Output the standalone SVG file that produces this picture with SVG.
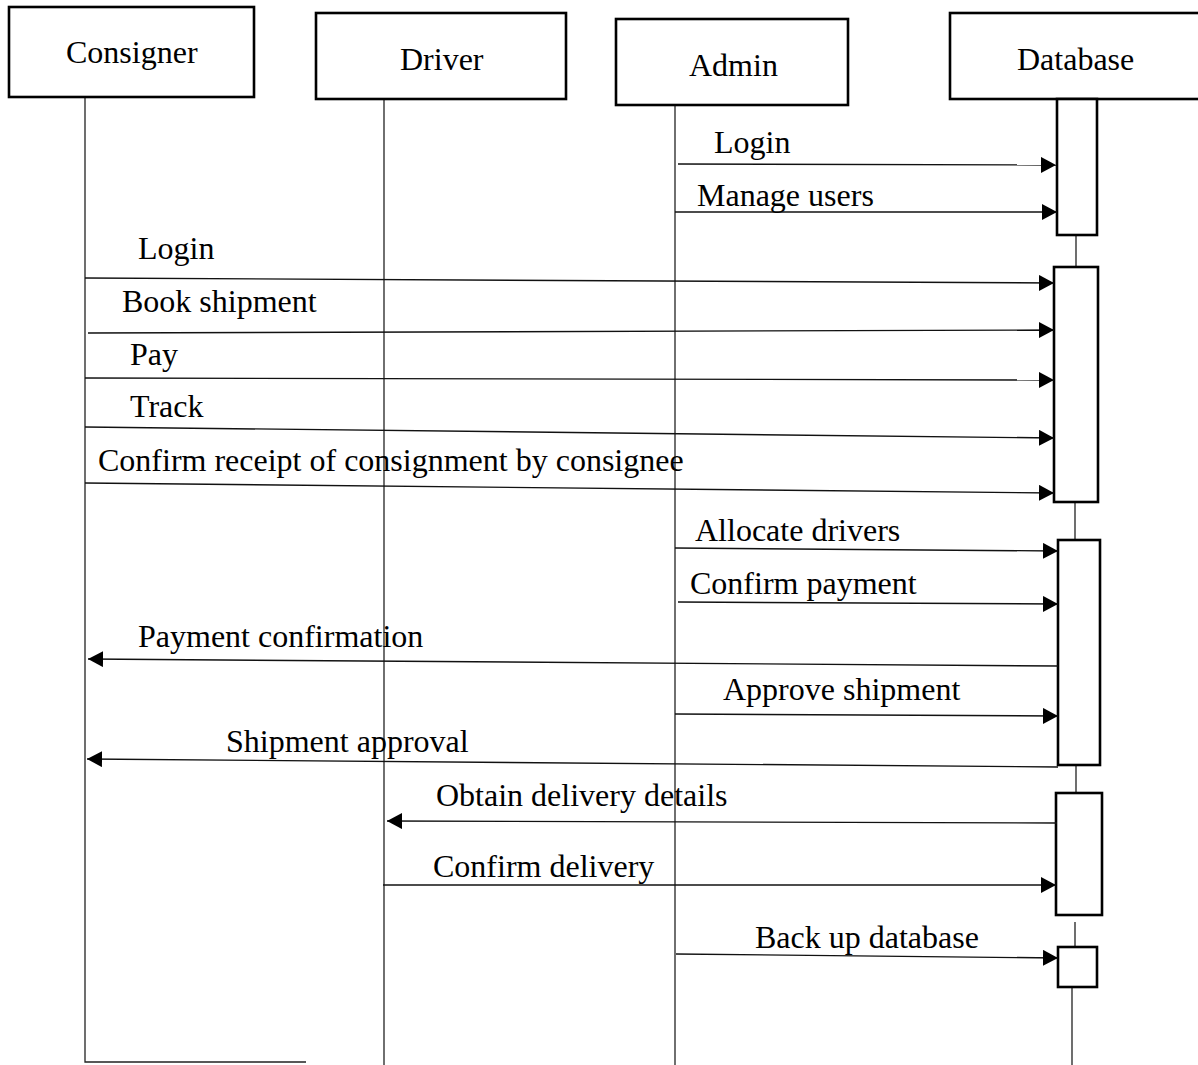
<svg xmlns="http://www.w3.org/2000/svg" width="1198" height="1065" viewBox="0 0 1198 1065">
<style>
text{font-family:"Liberation Serif","Times New Roman",serif;font-size:32px;fill:#000}
.box{fill:#fff;stroke:#000;stroke-width:2.6}
.life{stroke:#222;stroke-width:1.3;fill:none}
.msg{stroke:#111;stroke-width:1.4;fill:none;marker-end:url(#ah)}
.act{fill:#fff;stroke:#000;stroke-width:2.6}
</style>
<defs>
<marker id="ah" markerUnits="userSpaceOnUse" markerWidth="16" markerHeight="16" refX="15" refY="8" orient="auto">
<path d="M0,0 L15,8 L0,16 z" fill="#000"/>
</marker>
</defs>
<g id="lifelines">
<path class="life" d="M85,98 V1062 H306"/>
<path class="life" d="M384,99 V1065"/>
<path class="life" d="M675,105 V1065"/>
<path class="life" d="M1076,235 V266 M1075,502 V540 M1076,765 V793 M1075,922 V947 M1072,987 V1065"/>
</g>
<g id="consigner"><rect class="box" x="9" y="7" width="245" height="90"/><text x="66" y="63">Consigner</text></g>
<g id="driver"><rect class="box" x="316" y="13" width="250" height="86"/><text x="400" y="70">Driver</text></g>
<g id="admin"><rect class="box" x="616" y="19" width="232" height="86"/><text x="689" y="76">Admin</text></g>
<g id="database"><rect class="box" x="950" y="13" width="260" height="86"/><text x="1017" y="70">Database</text></g>
<g id="activations">
<rect class="act" x="1057" y="99" width="40" height="136"/>
<rect class="act" x="1054" y="267" width="44" height="235"/>
<rect class="act" x="1058" y="540" width="42" height="225"/>
<rect class="act" x="1056" y="793" width="46" height="122"/>
<rect class="act" x="1058" y="947" width="39" height="40"/>
</g>
<g id="connectors">
<path class="msg" d="M678,164 L1056,165"/>
<path class="msg" d="M675,212 L1057,212"/>
<path class="msg" d="M85,278 L1054,283"/>
<path class="msg" d="M88,333 L1054,330"/>
<path class="msg" d="M85,378 L1054,380"/>
<path class="msg" d="M85,427 L1054,438"/>
<path class="msg" d="M85,483 L1054,493"/>
<path class="msg" d="M675,548 L1058,551"/>
<path class="msg" d="M678,602 L1058,604"/>
<path class="msg" d="M1058,666 L88,659"/>
<path class="msg" d="M675,714 L1058,716"/>
<path class="msg" d="M1058,767 L87,759"/>
<path class="msg" d="M1057,823 L387,821"/>
<path class="msg" d="M383,885 L1056,885"/>
<path class="msg" d="M676,954 L1058,958"/>
</g>
<g id="labels">
<text x="714" y="153">Login</text>
<text x="697" y="206">Manage users</text>
<text x="138" y="259">Login</text>
<text x="122" y="312">Book shipment</text>
<text x="130" y="365">Pay</text>
<text x="130" y="417">Track</text>
<text x="98" y="471">Confirm receipt of consignment by consignee</text>
<text x="695" y="541">Allocate drivers</text>
<text x="690" y="594">Confirm payment</text>
<text x="138" y="647">Payment confirmation</text>
<text x="723" y="700">Approve shipment</text>
<text x="226" y="752">Shipment approval</text>
<text x="436" y="806">Obtain delivery details</text>
<text x="433" y="877">Confirm delivery</text>
<text x="755" y="948">Back up database</text>
</g>
</svg>
